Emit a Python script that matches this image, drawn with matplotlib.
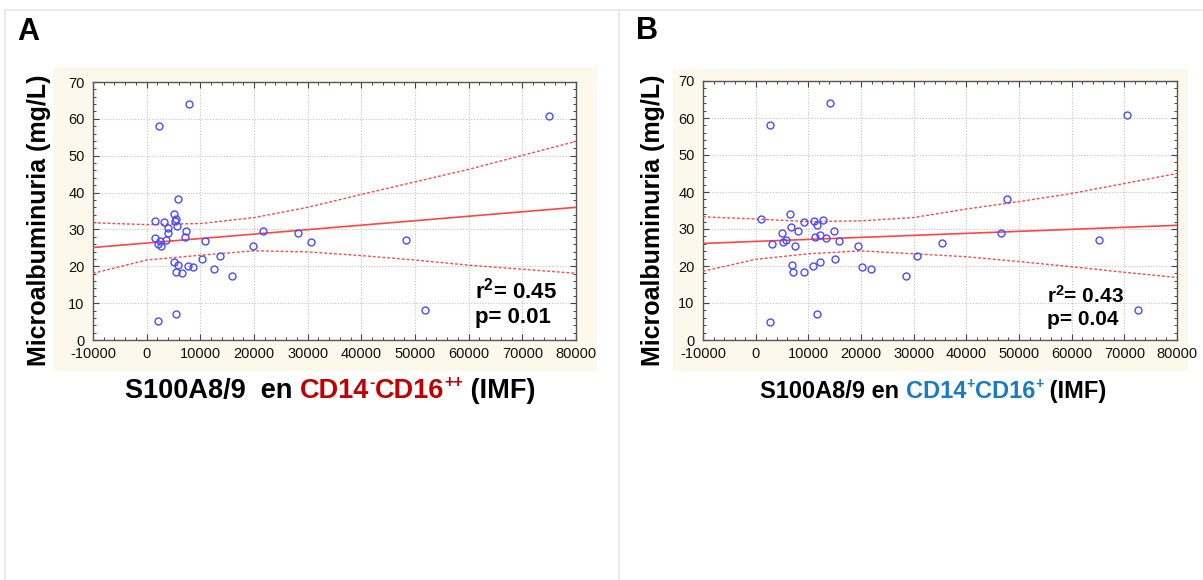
import matplotlib
matplotlib.use("Agg")
import matplotlib.pyplot as plt
from matplotlib.lines import Line2D
from matplotlib.patches import Rectangle
from matplotlib.ticker import MultipleLocator

plt.rcParams["font.family"] = ["Liberation Sans", "DejaVu Sans"]
plt.rcParams["axes.unicode_minus"] = False
plt.rcParams["mathtext.fontset"] = "custom"
plt.rcParams["mathtext.rm"] = "Liberation Sans"
plt.rcParams["mathtext.bf"] = "Liberation Sans:bold"
plt.rcParams["mathtext.default"] = "bf"

# --- data --------------------------------------------------------------
# panel A: S100A8/9 in CD14-CD16++ (IMF) vs microalbuminuria
xa = [7900, 2300, 1600, 1600, 2100, 2550, 2700, 3200, 3600, 4050, 4050, 5050,
      5250, 5500, 5650, 5800, 7250, 7100, 5050, 5800, 5550, 6550, 7750, 8650,
      5500, 2050, 10900, 10350, 12600, 13750, 15850, 19800, 21700, 28200,
      30600, 74900, 48400, 51900]
ya = [64.0, 58.0, 32.4, 27.8, 26.1, 26.8, 25.4, 32.0, 27.1, 30.5, 29.0, 34.1,
      32.4, 32.8, 30.9, 38.2, 29.5, 27.9, 21.2, 20.3, 18.5, 18.3, 20.1, 19.7,
      7.0, 5.1, 26.8, 22.0, 19.3, 22.9, 17.3, 25.5, 29.5, 29.1,
      26.5, 60.8, 27.1, 8.1]

# panel B: S100A8/9 in CD14+CD16+ (IMF) vs microalbuminuria
xb = [14200, 2700, 2700, 11650, 1100, 3100, 5000, 5200, 5800, 6500, 6650, 7550,
      8100, 9250, 6850, 7150, 9100, 10800, 11000, 11700, 11200, 12200, 12850,
      13300, 12300, 14950, 15000, 15900, 19450, 20150, 21850, 28550, 30700,
      35300, 46600, 47800, 65100, 70550, 72500]
yb = [64.1, 58.0, 5.0, 6.9, 32.8, 26.0, 29.0, 26.5, 27.0, 34.1, 30.5, 25.4,
      29.5, 31.9, 20.3, 18.3, 18.5, 20.1, 32.2, 31.0, 27.9, 28.4, 32.4,
      27.7, 21.2, 29.5, 21.9, 26.7, 25.4, 19.6, 19.2, 17.2, 22.8,
      26.3, 29.0, 38.1, 26.9, 60.9, 8.1]

# regression line end points and 95% band, read at the x ticks
fit_x = [-10000, 80000]
fit_a = [25.1, 36.0]
fit_b = [26.1, 31.0]

band_x = [-10000, 0, 10000, 20000, 30000, 40000, 50000, 60000, 70000, 80000]
upper_a = [31.8, 31.3, 31.6, 33.2, 36.0, 39.5, 42.9, 46.3, 50.1, 53.9]
lower_a = [18.1, 21.7, 23.0, 24.2, 23.9, 22.9, 21.7, 20.3, 19.2, 18.1]
upper_b = [33.3, 32.7, 32.0, 32.2, 33.1, 35.4, 37.4, 39.6, 42.3, 45.0]
lower_b = [18.6, 21.8, 23.3, 24.1, 23.3, 22.5, 21.2, 19.8, 18.3, 16.9]

stats_a = ("0.45", "0.01")
stats_b = ("0.43", "0.04")

W, H = 1203, 580
PT_BLUE = "#4b4bff"
LINE_RED = "#ff4646"
CREAM = "#fdf8ec"


def fx(px):
    return px / W


def fy(py):
    return 1 - py / H


def draw_panel(fig, rect, xs, ys, fit_y, up, lo, stats, stat_xy, stat_size):
    ax = fig.add_axes(rect)
    ax.set_facecolor("white")
    ax.grid(True, which="major", color="#c4c4c4", ls=(0, (1, 1.5)), lw=0.8)
    ax.set_axisbelow(True)

    ax.plot(fit_x, fit_y, color=LINE_RED, lw=1.2, zorder=3)
    ax.plot(band_x, up, color=LINE_RED, lw=1.0, ls=(0, (2, 1.5)), zorder=3)
    ax.plot(band_x, lo, color=LINE_RED, lw=1.0, ls=(0, (2, 1.5)), zorder=3)
    ax.plot(xs, ys, "o", mfc="none", mec=PT_BLUE, ms=5, mew=1.0, zorder=4)

    ax.set_xlim(-10000, 80000)
    ax.set_ylim(0, 70)
    ax.xaxis.set_major_locator(MultipleLocator(10000))
    ax.xaxis.set_minor_locator(MultipleLocator(2000))
    ax.yaxis.set_major_locator(MultipleLocator(10))
    ax.yaxis.set_minor_locator(MultipleLocator(2))
    ax.tick_params(which="both", direction="in", top=True, right=True,
                   colors="#444444", labelcolor="#111111", labelsize=10.5)
    ax.tick_params(which="major", length=4, width=0.8)
    ax.tick_params(which="minor", length=2.5, width=0.7)
    ax.tick_params(axis="x", pad=5)
    ax.tick_params(axis="y", pad=6)
    for sp in ax.spines.values():
        sp.set_color("#555555")
        sp.set_linewidth(1.0)

    # anchor is the baseline of the last line ("p= ...")
    r2, p = stats
    ax.text(stat_xy[0], stat_xy[1], f"r$^2$= {r2}\np= {p}",
            transform=ax.transAxes, fontsize=stat_size, fontweight="bold",
            ha="left", va="baseline", linespacing=1.2, zorder=5)
    return ax


def chained_label(fig, x_px, y_px, pieces, size):
    """Draw coloured text pieces one after another on a common baseline.
    Pieces flagged as superscript are drawn smaller and raised."""
    renderer = fig.canvas.get_renderer()
    x = fx(x_px)
    for s, color, sup in pieces:
        fs = size * 0.6 if sup else size
        yy = y_px - (size * 0.42 * 100 / 72 if sup else 0)
        t = fig.text(x, fy(yy), s, color=color, fontsize=fs,
                     fontweight="bold", ha="left", va="baseline")
        bb = t.get_window_extent(renderer=renderer)
        x += bb.width / fig.bbox.width


def main():
    fig = plt.figure(figsize=(W / 100, H / 100), dpi=100)
    fig.patch.set_facecolor("white")

    # table-like cell borders
    border = "#e6e6e6"
    fig.add_artist(Line2D([fx(5), 1], [fy(10), fy(10)], color=border, lw=1.2))
    fig.add_artist(Line2D([fx(5), fx(5)], [0, fy(10)], color=border, lw=1.2))
    fig.add_artist(Line2D([fx(619), fx(619)], [0, fy(10)], color=border, lw=1.2))

    # cream plot backgrounds
    fig.add_artist(Rectangle((fx(53), fy(371)), fx(597 - 53), (371 - 67) / H,
                             transform=fig.transFigure, color=CREAM, lw=0, zorder=0))
    fig.add_artist(Rectangle((fx(673), fy(371)), fx(1188 - 673), (371 - 69) / H,
                             transform=fig.transFigure, color=CREAM, lw=0, zorder=0))

    draw_panel(fig, [fx(93), fy(340), fx(576 - 93), (340 - 82) / H],
               xa, ya, fit_a, upper_a, lower_a, stats_a, (0.79, 0.066), 16)
    draw_panel(fig, [fx(703), fy(340), fx(1177 - 703), (340 - 81) / H],
               xb, yb, fit_b, upper_b, lower_b, stats_b, (0.725, 0.058), 15)

    fig.text(fx(17), fy(40), "A", fontsize=22, fontweight="bold", va="baseline")
    fig.text(fx(636), fy(39), "B", fontsize=22, fontweight="bold", va="baseline")

    for xc in (39, 653):
        fig.text(fx(xc), fy(220), "Microalbuminuria (mg/L)", rotation=90,
                 fontsize=18, fontweight="bold", ha="center", va="center")

    chained_label(fig, 125, 398, [("S100A8/9  en ", "black", False),
                                  ("CD14", "#c00000", False),
                                  ("-", "#c00000", True),
                                  ("CD16", "#c00000", False),
                                  ("++", "#c00000", True),
                                  (" (IMF)", "black", False)], 19.5)
    chained_label(fig, 760, 398, [("S100A8/9 en ", "black", False),
                                  ("CD14", "#1a7ac4", False),
                                  ("+", "#1a7ac4", True),
                                  ("CD16", "#1a7ac4", False),
                                  ("+", "#1a7ac4", True),
                                  (" (IMF)", "black", False)], 17)

    fig.savefig("out.png", dpi=100)
    plt.close(fig)


if __name__ == "__main__":
    main()
